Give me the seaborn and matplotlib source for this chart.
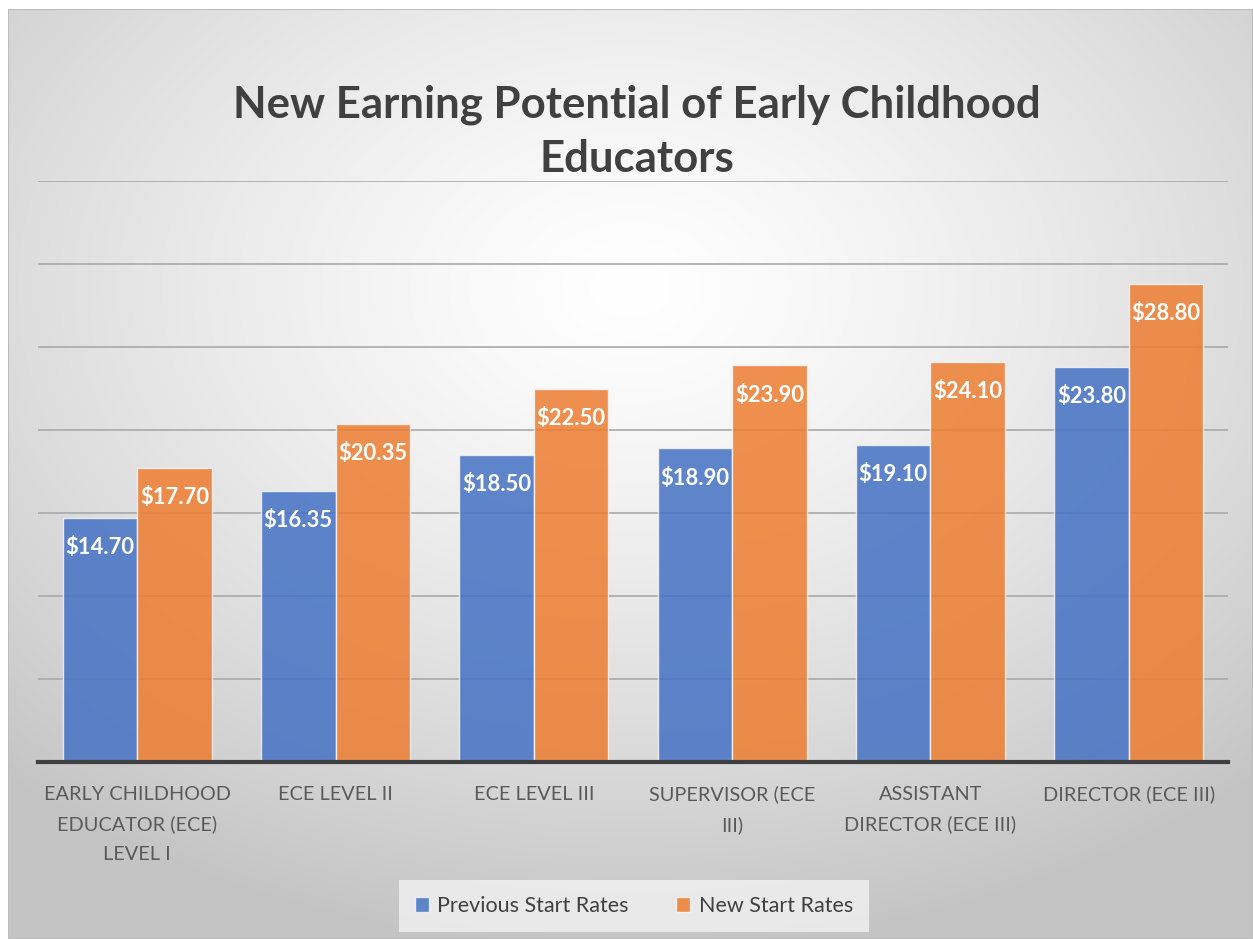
import numpy as np
import pandas as pd
import matplotlib
matplotlib.use("Agg")
import matplotlib.pyplot as plt
import seaborn as sns
from matplotlib.patches import Rectangle

categories = ["EARLY CHILDHOOD\nEDUCATOR (ECE)\nLEVEL I", "ECE LEVEL II", "ECE LEVEL III",
              "SUPERVISOR (ECE\nIII)", "ASSISTANT\nDIRECTOR (ECE III)", "DIRECTOR (ECE III)"]
previous_rates = [14.70, 16.35, 18.50, 18.90, 19.10, 23.80]
new_rates = [17.70, 20.35, 22.50, 23.90, 24.10, 28.80]
series_names = ["Previous Start Rates", "New Start Rates"]
title_text = "New Earning Potential of Early Childhood\nEducators"

sns.set_theme(style="white")
plt.rcParams['font.family'] = ['Lato', 'DejaVu Sans']

df = pd.DataFrame({
    "category": categories * 2,
    "value": previous_rates + new_rates,
    "series": [series_names[0]] * len(categories) + [series_names[1]] * len(categories),
})

W, H = 1253, 939
fig = plt.figure(figsize=(W / 100, H / 100), dpi=100)
fig.patch.set_facecolor("white")

# radial gradient background panel
bg = fig.add_axes([8 / W, 0, 1 - 8 / W, 1 - 9 / H], zorder=-5)
nx, ny = 400, 300
xx, yy = np.meshgrid(np.linspace(0, 1, nx), np.linspace(0, 1, ny))
cx, cy = 0.5, 0.30
r = np.sqrt(((xx - cx) * 1.0) ** 2 + ((yy - cy) * 1.05) ** 2)
r = np.clip(r / 0.75, 0, 1)
val = 1.0 - 0.23 * r ** 1.3
img = np.dstack([val, val, val])
bg.imshow(img, aspect="auto", extent=[0, 1, 1, 0], interpolation="bilinear")
bg.set_axis_off()
bg.add_patch(Rectangle((0, 0), 1, 1, transform=bg.transAxes, fill=False,
                       edgecolor="#bdbdbd", lw=1.5))

ax = fig.add_axes([38 / W, (H - 762) / H, (1228 - 38) / W, (762 - 181) / H])
ax.patch.set_alpha(0)

palette = {series_names[0]: "#4472C4", series_names[1]: "#ED7D31"}
sns.barplot(data=df, x="category", y="value", hue="series", palette=palette,
            width=0.75, ax=ax, alpha=0.85, edgecolor="#f4f4f4", linewidth=1.0,
            saturation=1, legend=True, zorder=3)

ax.set_ylim(0, 35)
ax.set_xlim(-0.5, len(categories) - 0.5)
ax.set_yticks(np.arange(0, 36, 5))
ax.yaxis.grid(True, color="#a9a9a9", linewidth=1.2, zorder=0)
ax.set_axisbelow(True)
ax.tick_params(axis="y", left=False, labelleft=False)
ax.tick_params(axis="x", bottom=False, pad=11, labelsize=14.3, labelcolor="#595959")
for lab in ax.get_xticklabels():
    lab.set_linespacing(1.88)
    lab.set_verticalalignment("top")
ax.set_xlabel("")
ax.set_ylabel("")
for s in ["top", "right", "left"]:
    ax.spines[s].set_visible(False)
ax.spines["bottom"].set_color("#404040")
ax.spines["bottom"].set_linewidth(3.0)
ax.spines["bottom"].set_zorder(5)

for cont in ax.containers:
    ax.bar_label(cont, labels=[f"${v:.2f}" for v in cont.datavalues], padding=-29,
                 color="white", fontsize=15.8, fontweight="bold")

leg = ax.legend(loc="center", bbox_to_anchor=(634 / W, (H - 906) / H),
                bbox_transform=fig.transFigure, ncol=2, frameon=True, fontsize=15.5,
                handlelength=0.65, handleheight=0.65, handletextpad=0.4,
                columnspacing=2.2, borderpad=0.75, fancybox=False)
leg.get_frame().set_facecolor("#f2f2f2")
leg.get_frame().set_edgecolor("none")
leg.get_frame().set_alpha(0.8)
for t in leg.get_texts():
    t.set_color("#404040")

fig.text(637 / W, (H - 132) / H, title_text, ha="center", va="center",
         fontsize=31.5, fontweight="bold", color="#404040", linespacing=1.42)

fig.savefig("out.png", dpi=100)
